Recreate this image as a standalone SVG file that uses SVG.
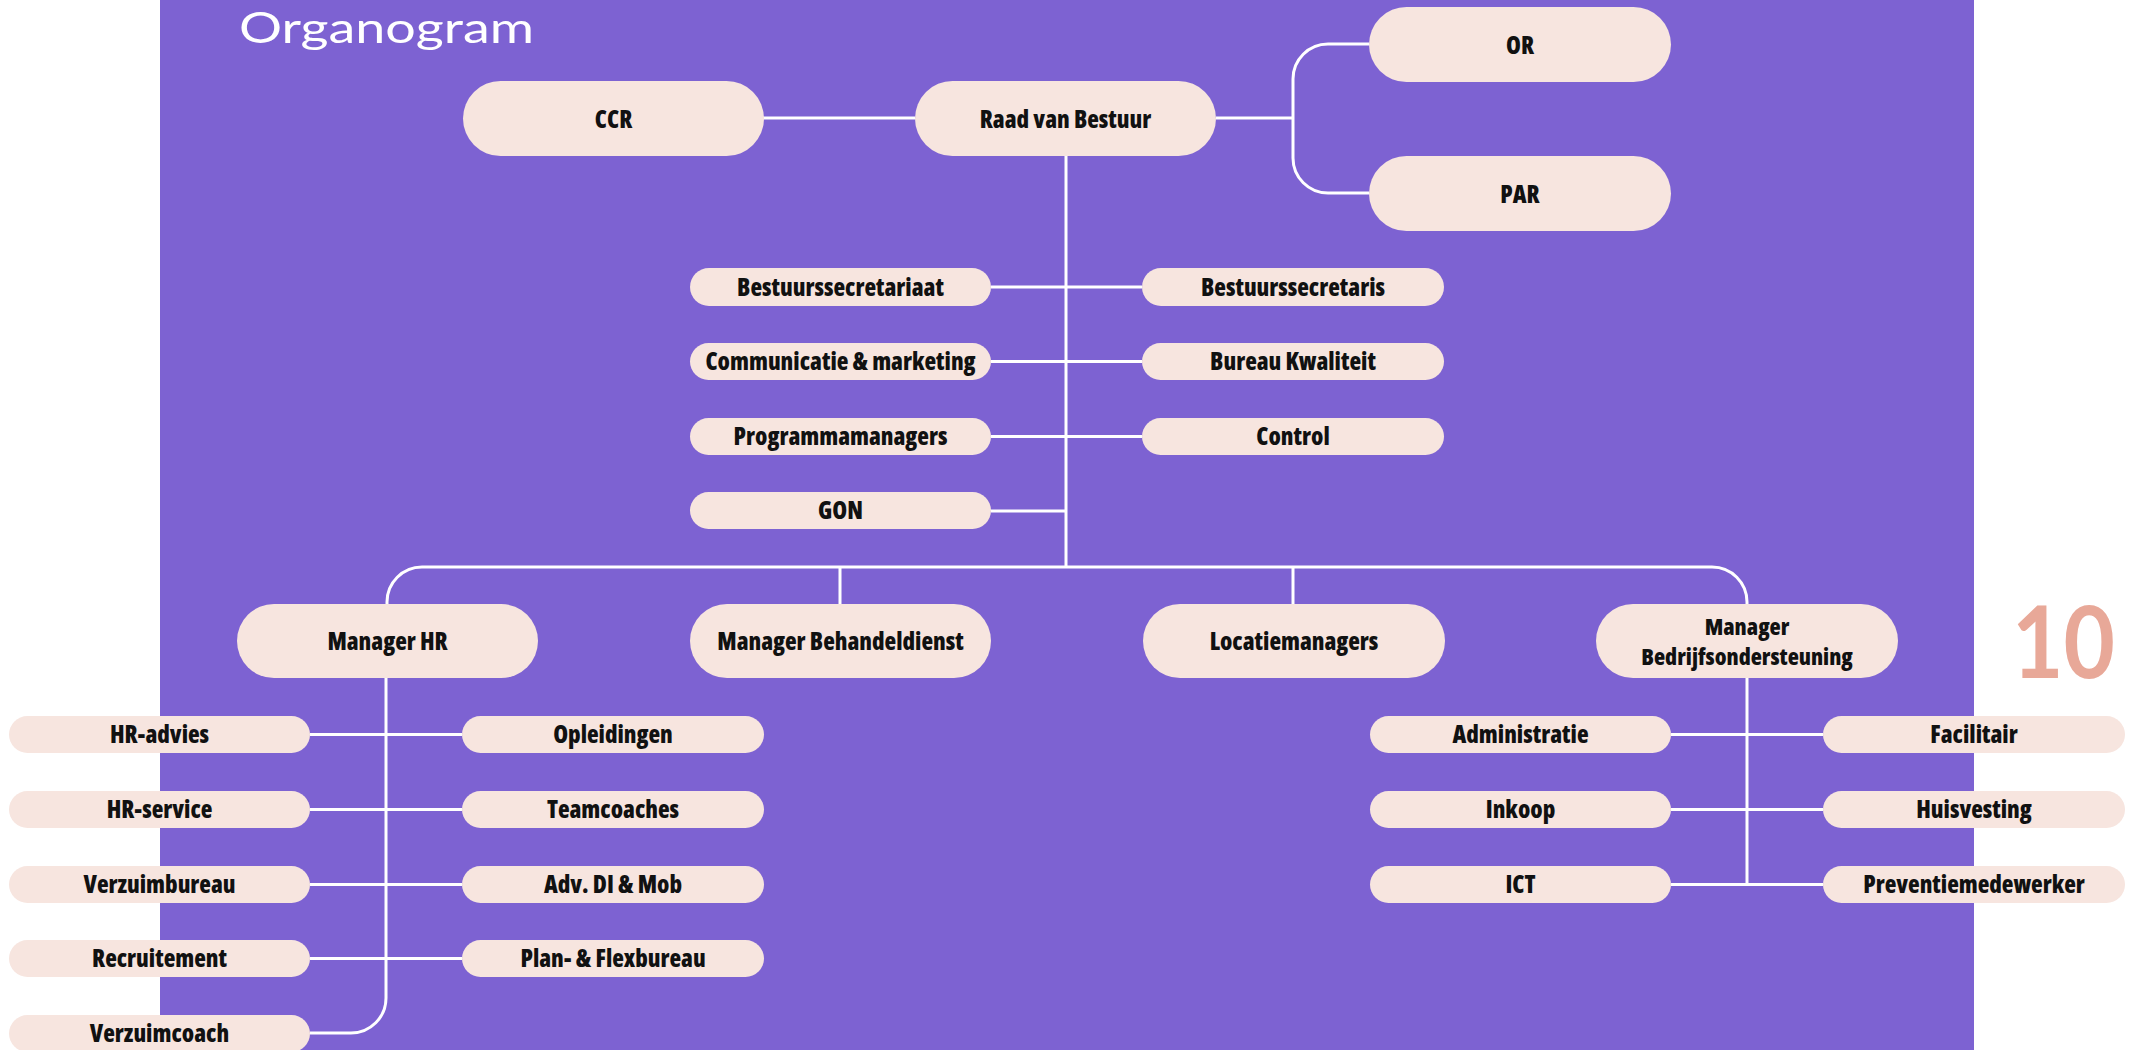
<svg xmlns="http://www.w3.org/2000/svg" width="2134" height="1050" viewBox="0 0 2134 1050">
<style>
.bg{fill:#7D62D2}
.n{fill:#F7E5DF}
.t{font-family:"Open Sans","Liberation Sans Narrow","DejaVu Sans Condensed",sans-serif;font-weight:800;font-size:24px;font-stretch:75%;fill:#111;text-anchor:middle}
.t2{font-size:23px}
.c{fill:none;stroke:#fff;stroke-width:3}
.title{font-family:Lato,"Open Sans",sans-serif;font-size:43px;fill:#fff}
.num{font-family:Lato,"Open Sans",sans-serif;font-weight:700;font-size:99px;fill:#E8A898}
</style>
<rect x="0" y="0" width="2134" height="1050" fill="#fff"/>
<rect class="bg" x="160" y="0" width="1814" height="1050"/>
<text class="title" x="239" y="43" textLength="295" lengthAdjust="spacingAndGlyphs">Organogram</text>
<text class="num" x="2012" y="678" textLength="103" lengthAdjust="spacingAndGlyphs">10</text>

<g id="connectors">
<path class="c" d="M763,118 H915"/>
<path class="c" d="M1216,118 H1293"/>
<path class="c" d="M1369,44 H1328 A35,35 0 0 0 1293,79 V158 A35,35 0 0 0 1328,193 H1369"/>
<path class="c" d="M1066,156 V567"/>
<path class="c" d="M991,287 H1142 M991,361.5 H1142 M991,436.5 H1142 M991,511 H1066"/>
<path class="c" d="M387,604 V602 A35,35 0 0 1 422,567 H1712 A35,35 0 0 1 1747,602 V604"/>
<path class="c" d="M840,567 V604 M1293,567 V604"/>
<path class="c" d="M386,678 V998 A35,35 0 0 1 351,1033 H310"/>
<path class="c" d="M310,734.5 H462 M310,809.5 H462 M310,884.5 H462 M310,958.5 H462"/>
<path class="c" d="M1747,678 V884.5"/>
<path class="c" d="M1671,734.5 H1823 M1671,809.5 H1823 M1671,884.5 H1823"/>
</g>

<g id="ccr"><rect class="n" x="463" y="81" width="301" height="75" rx="37.5"/><text class="t" x="613.5" y="127.5">CCR</text></g>
<g id="raad"><rect class="n" x="915" y="81" width="301" height="75" rx="37.5"/><text class="t" x="1065.5" y="127.5">Raad van Bestuur</text></g>
<g id="or"><rect class="n" x="1369" y="7" width="302" height="75" rx="37.5"/><text class="t" x="1520" y="53.5">OR</text></g>
<g id="par"><rect class="n" x="1369" y="156" width="302" height="75" rx="37.5"/><text class="t" x="1520" y="202.5">PAR</text></g>

<g id="bestuurssecretariaat"><rect class="n" x="690" y="268" width="301" height="38" rx="19"/><text class="t" x="840.5" y="295.5">Bestuurssecretariaat</text></g>
<g id="bestuurssecretaris"><rect class="n" x="1142" y="268" width="302" height="38" rx="19"/><text class="t" x="1293" y="295.5">Bestuurssecretaris</text></g>
<g id="communicatie"><rect class="n" x="690" y="343" width="301" height="37" rx="18.5"/><text class="t" x="840.5" y="370">Communicatie &amp; marketing</text></g>
<g id="kwaliteit"><rect class="n" x="1142" y="343" width="302" height="37" rx="18.5"/><text class="t" x="1293" y="370">Bureau Kwaliteit</text></g>
<g id="programmamanagers"><rect class="n" x="690" y="418" width="301" height="37" rx="18.5"/><text class="t" x="840.5" y="445">Programmamanagers</text></g>
<g id="control"><rect class="n" x="1142" y="418" width="302" height="37" rx="18.5"/><text class="t" x="1293" y="445">Control</text></g>
<g id="gon"><rect class="n" x="690" y="492" width="301" height="37" rx="18.5"/><text class="t" x="840.5" y="519">GON</text></g>

<g id="managerhr"><rect class="n" x="237" y="604" width="301" height="74" rx="37"/><text class="t" x="387.5" y="650">Manager HR</text></g>
<g id="behandeldienst"><rect class="n" x="690" y="604" width="301" height="74" rx="37"/><text class="t" x="840.5" y="650">Manager Behandeldienst</text></g>
<g id="locatiemanagers"><rect class="n" x="1143" y="604" width="302" height="74" rx="37"/><text class="t" x="1294" y="650">Locatiemanagers</text></g>
<g id="bedrijfsondersteuning"><rect class="n" x="1596" y="604" width="302" height="74" rx="37"/><text class="t t2" x="1747" y="635">Manager</text><text class="t t2" x="1747" y="665">Bedrijfsondersteuning</text></g>

<g id="hradvies"><rect class="n" x="9" y="716" width="301" height="37" rx="18.5"/><text class="t" x="159.5" y="743">HR-advies</text></g>
<g id="opleidingen"><rect class="n" x="462" y="716" width="302" height="37" rx="18.5"/><text class="t" x="613" y="743">Opleidingen</text></g>
<g id="hrservice"><rect class="n" x="9" y="791" width="301" height="37" rx="18.5"/><text class="t" x="159.5" y="818">HR-service</text></g>
<g id="teamcoaches"><rect class="n" x="462" y="791" width="302" height="37" rx="18.5"/><text class="t" x="613" y="818">Teamcoaches</text></g>
<g id="verzuimbureau"><rect class="n" x="9" y="866" width="301" height="37" rx="18.5"/><text class="t" x="159.5" y="893">Verzuimbureau</text></g>
<g id="advdi"><rect class="n" x="462" y="866" width="302" height="37" rx="18.5"/><text class="t" x="613" y="893">Adv. DI &amp; Mob</text></g>
<g id="recruitement"><rect class="n" x="9" y="940" width="301" height="37" rx="18.5"/><text class="t" x="159.5" y="967">Recruitement</text></g>
<g id="planflex"><rect class="n" x="462" y="940" width="302" height="37" rx="18.5"/><text class="t" x="613" y="967">Plan- &amp; Flexbureau</text></g>
<g id="verzuimcoach"><rect class="n" x="9" y="1015" width="301" height="37" rx="18.5"/><text class="t" x="159.5" y="1042">Verzuimcoach</text></g>

<g id="administratie"><rect class="n" x="1370" y="716" width="301" height="37" rx="18.5"/><text class="t" x="1520.5" y="743">Administratie</text></g>
<g id="facilitair"><rect class="n" x="1823" y="716" width="302" height="37" rx="18.5"/><text class="t" x="1974" y="743">Facilitair</text></g>
<g id="inkoop"><rect class="n" x="1370" y="791" width="301" height="37" rx="18.5"/><text class="t" x="1520.5" y="818">Inkoop</text></g>
<g id="huisvesting"><rect class="n" x="1823" y="791" width="302" height="37" rx="18.5"/><text class="t" x="1974" y="818">Huisvesting</text></g>
<g id="ict"><rect class="n" x="1370" y="866" width="301" height="37" rx="18.5"/><text class="t" x="1520.5" y="893">ICT</text></g>
<g id="preventie"><rect class="n" x="1823" y="866" width="302" height="37" rx="18.5"/><text class="t" x="1974" y="893">Preventiemedewerker</text></g>
</svg>
